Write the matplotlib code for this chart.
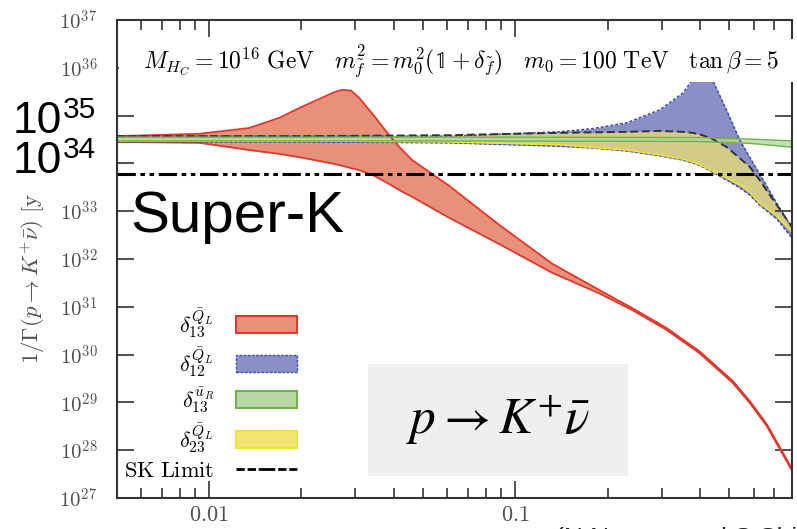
import matplotlib.pyplot as plt
from matplotlib.patches import Rectangle, Patch
from matplotlib.lines import Line2D
import numpy as np

plt.rcParams['mathtext.fontset'] = 'cm'

# --- data (y values are log10 of lifetime in years) ---
red_x = [0.005, 0.0093, 0.0135, 0.0169, 0.0197, 0.0229, 0.0256, 0.0272, 0.0291, 0.0309,
         0.0346, 0.0387, 0.0418, 0.046, 0.0608, 0.0887, 0.132, 0.188, 0.241, 0.311,
         0.399, 0.512, 0.582, 0.661, 0.729, 0.8]
red_hi = [34.57, 34.62, 34.74, 34.95, 35.16, 35.35, 35.49, 35.54, 35.52, 35.37,
          34.99, 34.59, 34.34, 34.07, 33.53, 32.71, 31.90, 31.35, 30.97, 30.56,
          30.07, 29.45, 29.03, 28.55, 28.07, 27.61]
red_lo = [34.45, 34.43, 34.28, 34.20, 34.13, 34.05, 33.99, 33.95, 33.90, 33.86,
          33.74, 33.57, 33.44, 33.30, 32.86, 32.31, 31.71, 31.28, 30.93, 30.52,
          30.03, 29.41, 28.99, 28.51, 28.03, 27.57]

blue_x = [0.005, 0.0197, 0.0608, 0.139, 0.18, 0.231, 0.296, 0.352, 0.379, 0.408,
          0.44, 0.49, 0.54, 0.582, 0.627, 0.713, 0.8]
blue_hi = [34.57, 34.57, 34.57, 34.66, 34.73, 34.85, 35.12, 35.47, 35.75, 36.20,
           35.75, 35.10, 34.49, 34.13, 33.78, 33.17, 32.65]
blue_lo = [34.45, 34.45, 34.43, 34.36, 34.32, 34.26, 34.16, 34.07, 34.01, 33.93,
           33.82, 33.65, 33.49, 33.34, 33.13, 32.84, 32.44]

yel_x = [0.005, 0.0197, 0.0608, 0.139, 0.231, 0.296, 0.352, 0.379, 0.408, 0.44,
         0.49, 0.54, 0.582, 0.627, 0.713, 0.8]
yel_hi = [34.57, 34.57, 34.59, 34.64, 34.66, 34.68, 34.66, 34.64, 34.59, 34.51,
          34.34, 34.11, 33.93, 33.65, 33.13, 32.67]
yel_lo = [34.47, 34.47, 34.45, 34.39, 34.28, 34.18, 34.09, 34.03, 33.95, 33.84,
          33.69, 33.55, 33.40, 33.17, 32.90, 32.56]

grn_x = [0.005, 0.0608, 0.399, 0.582, 0.8]
grn_hi = [34.55, 34.55, 34.54, 34.51, 34.47]
grn_lo = [34.47, 34.47, 34.46, 34.42, 34.34]

sk_limit = 5.9e33

labels = [r'$\delta^{\bar{Q}_L}_{13}$', r'$\delta^{\bar{Q}_L}_{12}$',
          r'$\delta^{\bar{u}_R}_{13}$', r'$\delta^{\bar{Q}_L}_{23}$', r'$\mathrm{SK\ Limit}$']

ytick_vals = [1e27, 1e28, 1e29, 1e30, 1e31, 1e32, 1e33, 1e34, 1e35, 1e36, 1e37]
ytick_labels = [r'$10^{27}$', r'$10^{28}$', r'$10^{29}$', r'$10^{30}$', r'$10^{31}$',
                r'$10^{32}$', r'$10^{33}$', '', '', r'$10^{36}$', r'$10^{37}$']
xtick_vals = [0.01, 0.1]
xtick_labels = [r'$0.01$', r'$0.1$']

red_f, red_e = '#e8917a', '#e2372c'
blue_f, blue_e = '#8b8fc7', '#3a4db4'
grn_f, grn_e = '#b9d7a2', '#6fb448'
yel_f, yel_e = '#f2e66e', '#eee23c'

fig = plt.figure(figsize=(7.97, 5.29), dpi=100)
ax = fig.add_axes([117/797, 31/529, 675/797, 478/529])

p = lambda v: 10**np.array(v)

ax.fill_between(red_x, p(red_lo), p(red_hi), color=red_f, lw=0)
ax.plot(red_x, p(red_hi), color=red_e, lw=1.3)
ax.plot(red_x, p(red_lo), color=red_e, lw=1.3)

ax.fill_between(blue_x, p(blue_lo), p(blue_hi), color=blue_f, lw=0)
ax.plot(blue_x, p(blue_hi), color=blue_e, lw=1.1, ls=(0, (2, 1.2)))
ax.plot(blue_x, p(blue_lo), color=blue_e, lw=1.1, ls=(0, (2, 1.2)))

ax.fill_between(yel_x, p(yel_lo), p(yel_hi), color=yel_f, lw=0, alpha=0.7)
ax.plot(yel_x, p(yel_lo), color=yel_e, lw=1.2)
ax.plot(yel_x, p(yel_hi), color='#333333', lw=1.4, ls=(0, (4, 2)))

ax.fill_between(grn_x, p(grn_lo), p(grn_hi), color=grn_f, lw=0, alpha=0.8)
ax.plot(grn_x, p(grn_hi), color=grn_e, lw=1)
ax.plot(grn_x, p(grn_lo), color=grn_e, lw=1)

ax.axhline(sk_limit, color='black', lw=2.2, dashes=(6, 1.5, 1.5, 1.5, 1.5, 1.5))

ax.set_xscale('log')
ax.set_yscale('log')
ax.set_xlim(0.005, 0.8)
ax.set_ylim(1e27, 1e37)
ax.set_yticks(ytick_vals, ytick_labels)
ax.set_yticks([], minor=True)
ax.set_xticks(xtick_vals, xtick_labels)
ax.set_xticks([0.006, 0.007, 0.008, 0.009, 0.02, 0.03, 0.04, 0.05, 0.06, 0.07, 0.08,
               0.09, 0.2, 0.3, 0.4, 0.5, 0.6, 0.7], minor=True)
ax.tick_params(which='both', direction='in', top=True, right=True, colors='#333333',
               labelcolor='#505050', labelsize=15, width=1.2)
ax.tick_params(which='major', length=12, pad=14)
ax.tick_params(axis='x', which='major', pad=5, labelsize=16)
ax.tick_params(which='minor', length=7)
for s in ax.spines.values():
    s.set_color('#333333')
    s.set_linewidth(1.5)

ax.set_ylabel(r'$1/\Gamma(p \rightarrow K^{+}\bar{\nu})\ [\mathrm{years}]$', fontsize=16.5,
              color='#505050', ha='left')
ax.yaxis.set_label_coords(-0.104, 0.28)

handles = [Patch(facecolor=red_f, edgecolor=red_e, lw=1.5),
           Patch(facecolor=blue_f, edgecolor=blue_e, lw=1, ls=(0, (2, 1))),
           Patch(facecolor=grn_f, edgecolor=grn_e, lw=1.5),
           Patch(facecolor=yel_f, edgecolor=yel_e, lw=1.5),
           Line2D([], [], color='black', lw=2, dashes=(3, 1, 3, 1, 6, 1))]
ax.legend(handles, labels, loc='lower right', bbox_to_anchor=(0.267, 0.035),
          frameon=False, markerfirst=False, fontsize=16, handlelength=2.75,
          handleheight=0.81, labelspacing=0.27, handletextpad=1.0, borderaxespad=0,
          borderpad=0)

# p -> K+ nu-bar box
ax.add_patch(Rectangle((368/797, 1 - 476/529), 260/797, 112/529, transform=fig.transFigure,
                       facecolor='#efeff1', edgecolor='none', zorder=1))
fig.text(498/797, 1 - 420/529, r'$p \rightarrow K^{+}\bar{\nu}$', fontsize=37,
         math_fontfamily='stix', ha='center', va='center', zorder=6)

# header box
fig.add_artist(Rectangle((119/797, 1 - 82/529), 678/797, 43/529, transform=fig.transFigure,
                         facecolor='white', edgecolor='none', zorder=5))
fig.text(143/797, 1 - 61/529,
         r'$M_{H_C} = 10^{16}\ \mathrm{GeV}\quad m^2_{\tilde{f}} = m^2_0(\mathbb{1} + \delta_{\tilde{f}})'
         r'\quad m_0 = 100\ \mathrm{TeV}\quad \tan\beta = 5$',
         fontsize=17, va='center', zorder=6)

# overlaid annotations
fig.add_artist(Rectangle((4/797, 1 - 195/529), 100/797, 103/529, transform=fig.transFigure,
                         facecolor='white', edgecolor='none', zorder=5))
big = dict(family='Liberation Sans', va='baseline', zorder=6, color='black')
fig.text(13/797, 1 - 133/529, '10', fontsize=32, **big)
fig.text(63/797, 1 - 118/529, '35', fontsize=21.5, **big)
fig.text(13/797, 1 - 173/529, '10', fontsize=32, **big)
fig.text(63/797, 1 - 158/529, '34', fontsize=21.5, **big)
fig.text(130/797, 1 - 232/529, 'Super-K', fontsize=42, **big)
fig.text(555/797, 1 - 546/529, '(N.Nagata and S.Shirai)', fontsize=19,
         family='Liberation Sans', color='#222222')

fig.savefig('out.png', dpi=100)
